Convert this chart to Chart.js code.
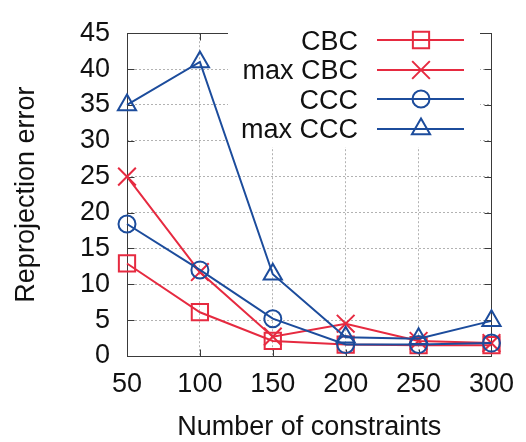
<!DOCTYPE html>
<html>
<head>
<meta charset="utf-8">
<script src="https://cdn.jsdelivr.net/npm/chart.js@4.4.1/dist/chart.umd.min.js"></script>
<style>
  html, body { margin: 0; padding: 0; background: #fff; }
  canvas { display: block; }
</style>
</head>
<body>
<canvas id="c" width="526" height="442"></canvas>
<script>
// Number of constraints on the x axis
const constraintCounts = ['50', '100', '150', '200', '250', '300'];

// Reprojection error per method
const cbcError    = [12.9, 6.1, 2.1, 1.6, 1.5, 1.5];
const maxCbcError = [25, 11.7, 2.7, 4.5, 2.1, 1.8];
const cccError    = [18.4, 12, 5.2, 1.6, 1.6, 1.8];
const maxCccError = [35, 41, 11.4, 2.6, 2.4, 4.9];

// Y axis range and step
const yMin = 0, yMax = 45, yStep = 5;

const RED = '#e62a40';
const BLUE = '#1c4c9c';
const FONT = "'Liberation Sans', Arial, sans-serif";
const FONT_SIZE = 27;

function series(label, data, color, style, radius, order) {
  return {
    label, data, order,
    borderColor: color, backgroundColor: 'rgba(0,0,0,0)',
    borderWidth: 2, tension: 0, clip: false,
    pointStyle: style, pointRadius: radius, pointHoverRadius: radius,
    pointBorderColor: color, pointBackgroundColor: 'rgba(0,0,0,0)', pointBorderWidth: 2
  };
}

// Box frame with inward tick marks on all four sides
const framePlugin = {
  id: 'frame',
  beforeDatasetsDraw(chart) {
    const { ctx, chartArea: a, scales: { x, y } } = chart;
    const L = Math.round(a.left) + 0.5, R = Math.round(a.right) + 0.5;
    const T = Math.round(a.top) + 0.5, B = Math.round(a.bottom) + 0.5;
    const len = 7;
    ctx.save();
    ctx.strokeStyle = '#3a3a3a';
    ctx.lineWidth = 1;
    ctx.strokeRect(L, T, R - L, B - T);
    ctx.beginPath();
    y.ticks.forEach((t, i) => {
      const py = Math.round(y.getPixelForTick(i)) + 0.5;
      ctx.moveTo(L, py); ctx.lineTo(L + len, py);
      ctx.moveTo(R, py); ctx.lineTo(R - len, py);
    });
    x.ticks.forEach((t, i) => {
      const px = Math.round(x.getPixelForTick(i)) + 0.5;
      ctx.moveTo(px, B); ctx.lineTo(px, B - len);
      ctx.moveTo(px, T); ctx.lineTo(px, T + len);
    });
    ctx.stroke();
    ctx.restore();
  }
};

// Key in the upper right: right-aligned names, line sample with marker
const keyPlugin = {
  id: 'key',
  beforeDatasetsDraw(chart) {
    const { ctx } = chart;
    ctx.save();
    ctx.fillStyle = '#fff';
    ctx.fillRect(228, 21, 252, 126);
    ctx.restore();
  },
  afterDatasetsDraw(chart) {
    const { ctx } = chart;
    const textRight = 358, lineL = 377, lineR = 464, markX = 421;
    const firstY = 40, rowGap = 29.5;
    ctx.save();
    ctx.font = FONT_SIZE + 'px ' + FONT;
    ctx.textAlign = 'right';
    ctx.textBaseline = 'alphabetic';
    chart.data.datasets.forEach((ds, i) => {
      const cy = firstY + i * rowGap;
      ctx.fillStyle = '#111';
      ctx.fillText(ds.label, textRight, cy + 9.7);
      ctx.strokeStyle = ds.borderColor;
      ctx.lineWidth = ds.borderWidth;
      ctx.beginPath();
      ctx.moveTo(lineL, Math.round(cy));
      ctx.lineTo(lineR, Math.round(cy));
      ctx.stroke();
      ctx.fillStyle = 'rgba(0,0,0,0)';
      ctx.lineWidth = ds.pointBorderWidth;
      Chart.helpers.drawPoint(ctx, {
        pointStyle: ds.pointStyle, radius: ds.pointRadius, rotation: 0, borderWidth: ds.pointBorderWidth
      }, markX, Math.round(cy));
    });
    ctx.restore();
  }
};

new Chart(document.getElementById('c'), {
  type: 'line',
  data: {
    labels: constraintCounts,
    datasets: [
      series('CBC', cbcError, RED, 'rect', 11.5, 4),
      series('max CBC', maxCbcError, RED, 'crossRot', 12.5, 3),
      series('CCC', cccError, BLUE, 'circle', 8.5, 2),
      series('max CCC', maxCccError, BLUE, 'triangle', 10.5, 1)
    ]
  },
  options: {
    responsive: false,
    animation: false,
    events: [],
    layout: { padding: { top: 20, right: 27, left: 0, bottom: 0 } },
    plugins: { legend: { display: false }, tooltip: { enabled: false } },
    scales: {
      x: {
        type: 'category',
        offset: false,
        grid: { display: true, drawTicks: false, color: 'rgba(0,0,0,0.3)', lineWidth: 1 },
        border: { display: false, dash: [2, 2] },
        ticks: { color: '#111', padding: 12, maxRotation: 0, font: { family: FONT, size: FONT_SIZE } },
        title: {
          display: true, text: 'Number of constraints', color: '#111',
          font: { family: FONT, size: FONT_SIZE, lineHeight: 1 }, padding: { top: 0, bottom: 1 }
        },
        afterFit(scale) { scale.height = 86; }
      },
      y: {
        min: yMin, max: yMax,
        grid: { display: true, drawTicks: false, color: 'rgba(0,0,0,0.3)', lineWidth: 1 },
        border: { display: false, dash: [2, 2] },
        ticks: { stepSize: yStep, color: '#111', padding: 17, font: { family: FONT, size: FONT_SIZE } },
        title: {
          display: true, text: 'Reprojection error', color: '#111',
          font: { family: FONT, size: FONT_SIZE }, padding: { top: 10, bottom: 0 }
        },
        afterFit(scale) { scale.width = 127; }
      }
    }
  },
  plugins: [framePlugin, keyPlugin]
});
</script>
</body>
</html>
